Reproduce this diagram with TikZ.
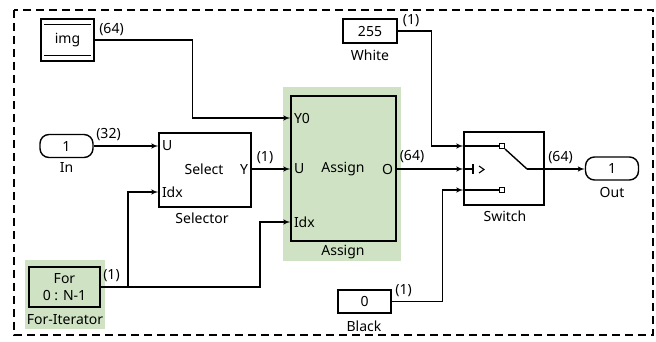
\documentclass[tikz,border=0pt]{standalone}
\usepackage{fontspec}
\setmainfont{Noto Sans}
\usetikzlibrary{arrows}
\usetikzlibrary{backgrounds}
\definecolor{bggreen}{RGB}{207,227,196}

\begin{document}
\begin{tikzpicture}
        [
            x = 1pt, y = -1pt, font = \fontsize{14}{17}\selectfont,
            > = latex', line width = 1.4pt,
            box/.style = {rectangle, draw=black, line width=1.4pt, align=center, inner sep=0pt},
            pill/.style = {box, rounded corners=9pt, minimum width=53pt, minimum height=23pt},
            port/.style = {inner sep=3pt},
            hl/.style = {fill=bggreen}
        ]
        \useasboundingbox (0, 0) rectangle (656, 341);
        \draw [line width=2.2pt, dash pattern=on 8pt off 5pt] (14, 10) rectangle (653, 335);

        % highlighted areas
        \fill [hl] (283, 87) rectangle (401, 261);
        \fill [hl] (25, 260) rectangle (105, 329);

        % blocks
        \node [box, minimum width=53pt, minimum height=42pt] at (67.5, 40) (img) {img};
        \draw [line width=1.1pt] ([xshift=4pt, yshift=-6pt]img.north west) -- ([xshift=-4pt, yshift=-6pt]img.north east);
        \draw [line width=1.1pt] ([xshift=4pt, yshift=6pt]img.south west) -- ([xshift=-4pt, yshift=6pt]img.south east);

        \node [pill] at (66.5, 146) (in) {1};
        \node at (66.5, 167) (inlbl) {In};

        \node [box, minimum width=92pt, minimum height=74pt] at (205, 170) (sel) {};
        \node [port, anchor=west] at (sel.west |- 0, 146) (selU) {U};
        \node [port, anchor=west] at (sel.west |- 0, 192) (selIdx) {Idx};
        \node [port, anchor=east] at (sel.east |- 0, 169) (selY) {Y};
        \node at (204, 169) (seltxt) {Select};
        \node at (202, 218) (sellbl) {Selector};

        \node [box, minimum width=105pt, minimum height=145pt] at (343.5, 168.5) (asg) {};
        \node [port, anchor=west] at (asg.west |- 0, 118) (asgY0) {Y0};
        \node [port, anchor=west] at (asg.west |- 0, 169) (asgU) {U};
        \node [port, anchor=west] at (asg.west |- 0, 222) (asgIdx) {Idx};
        \node [port, anchor=east] at (asg.east |- 0, 169) (asgO) {O};
        \node at (343, 169) (asgtxt) {Assign};
        \node at (343, 252) (asglbl) {Assign};

        \node [box, minimum width=71pt, minimum height=40pt] at (64.5, 287) (for) {For\\0 : N-1};
        \node at (65, 320) (forlbl) {For-Iterator};

        \node [box, minimum width=54pt, minimum height=24pt] at (370, 31) (white) {255};
        \node at (370, 55) (whitelbl) {White};
        \node [box, minimum width=53pt, minimum height=23pt] at (364.5, 301.5) (black) {0};
        \node at (364, 326) (blacklbl) {Black};

        \node [box, minimum width=80pt, minimum height=73pt] at (504, 168.5) (sw) {};
        \node at (505, 216) (swlbl) {Switch};
        \coordinate (swA) at (sw.west |- 0, 146);
        \coordinate (swB) at (sw.west |- 0, 169);
        \coordinate (swC) at (sw.west |- 0, 190);
        \coordinate (pivot) at (527, 169);
        \node [box, line width=1.1pt, minimum size=5pt] at (502, 146) (sqA) {};
        \node [box, line width=1.1pt, minimum size=5pt] at (502, 190) (sqC) {};
        \draw (swA) -- (sqA.west);
        \draw (swC) -- (sqC.west);
        \draw (sqA.south east) -- (pivot);
        \draw (swB) -- (473, 169);
        \draw (473, 164) -- (473, 174);
        \draw [line width=1.1pt] (479, 166) -- (484, 169.5) -- (479, 173);

        \node [pill] at (612, 168.5) (out) {1};
        \node at (612, 192) (outlbl) {Out};

        % signals
        \coordinate (split) at (128, 287);
        \coordinate (bend) at (260, 287);
        \draw [->] (img.east) -- ++(98, 0) |- (asgY0.west);
        \draw [->] (in.east) -- (in.east -| selU.west);
        \draw [->] (selY.east) -- (asgU.west);
        \draw (for.east) -- (split);
        \draw [->] (split) |- (selIdx.west);
        \draw [->] (split) -- (bend) |- (asgIdx.west);
        \draw [->] (asgO.east) -- (swB);
        \draw [->] (white.east) -- ++(34, 0) |- (swA);
        \draw [->] (black.east) -- ++(51, 0) |- (swC);
        \draw [->] (pivot) -- (pivot -| out.west);

        % widths
        \node at (111.5, 30) (w1) {(64)};
        \node at (108.5, 135) (w2) {(32)};
        \node at (265, 157.5) (w3) {(1)};
        \node at (412, 157) (w4) {(64)};
        \node at (411, 21) (w5) {(1)};
        \node at (560.5, 158) (w6) {(64)};
        \node at (111.5, 276) (w7) {(1)};
        \node at (403.5, 291) (w8) {(1)};
    \end{tikzpicture}
\end{document}
